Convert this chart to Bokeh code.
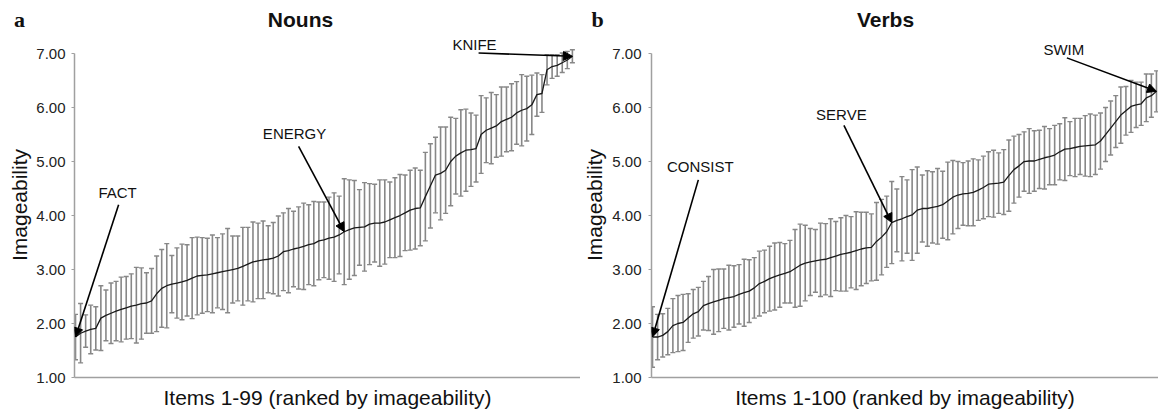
from bokeh.plotting import figure
from bokeh.models import (ColumnDataSource, Whisker, TeeHead, Arrow, NormalHead, Label,
                          FixedTicker, Range1d, PrintfTickFormatter)
from bokeh.layouts import row, column
from bokeh.embed import file_html
from bokeh.resources import INLINE

# ---------------- data ----------------
noun_means = [1.75, 1.82, 1.86, 1.89, 1.91, 2.10, 2.15, 2.19, 2.23, 2.26,
              2.29, 2.32, 2.34, 2.37, 2.38, 2.42, 2.55, 2.65, 2.70, 2.73,
              2.75, 2.77, 2.80, 2.84, 2.88, 2.89, 2.90, 2.92, 2.94, 2.96,
              2.98, 3.00, 3.02, 3.06, 3.10, 3.14, 3.16, 3.18, 3.19, 3.21,
              3.25, 3.33, 3.35, 3.38, 3.40, 3.43, 3.46, 3.48, 3.53, 3.55,
              3.58, 3.60, 3.64, 3.70, 3.74, 3.77, 3.78, 3.79, 3.84, 3.86,
              3.86, 3.88, 3.92, 3.96, 4.00, 4.05, 4.10, 4.13, 4.14, 4.35,
              4.55, 4.75, 4.78, 4.84, 5.00, 5.10, 5.16, 5.21, 5.22, 5.24,
              5.50, 5.58, 5.62, 5.66, 5.74, 5.78, 5.82, 5.90, 5.95, 5.98,
              6.05, 6.24, 6.26, 6.70, 6.76, 6.78, 6.83, 6.88, 6.95]
noun_sd = [0.42, 0.55, 0.30, 0.45, 0.40, 0.60, 0.47, 0.56, 0.55, 0.60,
           0.58, 0.60, 0.70, 0.66, 0.56, 0.60, 0.70, 0.72, 0.78, 0.53,
           0.65, 0.70, 0.66, 0.75, 0.72, 0.70, 0.68, 0.72, 0.65, 0.70,
           0.78, 0.62, 0.60, 0.72, 0.68, 0.74, 0.70, 0.72, 0.62, 0.66,
           0.74, 0.72, 0.78, 0.70, 0.76, 0.80, 0.74, 0.78, 0.72, 0.70,
           0.76, 0.82, 0.72, 0.98, 0.92, 0.88, 0.70, 0.82, 0.75, 0.72,
           0.80, 0.78, 0.70, 0.74, 0.76, 0.70, 0.74, 0.75, 0.70, 0.82,
           0.78, 0.70, 0.86, 0.80, 0.82, 0.70, 0.80, 0.76, 0.68, 0.62,
           0.72, 0.60, 0.66, 0.58, 0.64, 0.60, 0.62, 0.58, 0.66, 0.60,
           0.55, 0.40, 0.35, 0.28, 0.22, 0.20, 0.18, 0.16, 0.12]

verb_means = [1.75, 1.75, 1.78, 1.85, 1.96, 2.00, 2.02, 2.10, 2.18, 2.22,
              2.33, 2.37, 2.40, 2.43, 2.46, 2.48, 2.50, 2.54, 2.57, 2.60,
              2.66, 2.74, 2.78, 2.83, 2.87, 2.90, 2.93, 2.96, 3.02, 3.08,
              3.12, 3.14, 3.16, 3.18, 3.19, 3.22, 3.25, 3.28, 3.30, 3.32,
              3.35, 3.38, 3.40, 3.41, 3.52, 3.60, 3.70, 3.87, 3.91, 3.94,
              3.98, 4.01, 4.10, 4.13, 4.13, 4.15, 4.17, 4.20, 4.27, 4.34,
              4.38, 4.40, 4.41, 4.43, 4.47, 4.52, 4.58, 4.59, 4.60, 4.62,
              4.74, 4.85, 4.92, 5.00, 5.01, 5.01, 5.04, 5.07, 5.09, 5.12,
              5.18, 5.23, 5.24, 5.26, 5.28, 5.29, 5.30, 5.31, 5.38, 5.50,
              5.62, 5.74, 5.86, 5.94, 6.02, 6.05, 6.07, 6.18, 6.22, 6.30]
verb_sd = [0.56, 0.42, 0.40, 0.43, 0.50, 0.52, 0.52, 0.45, 0.45, 0.45,
           0.45, 0.50, 0.60, 0.58, 0.55, 0.60, 0.57, 0.55, 0.62, 0.58,
           0.56, 0.60, 0.58, 0.60, 0.62, 0.60, 0.55, 0.58, 0.72, 0.76,
           0.70, 0.62, 0.58, 0.68, 0.66, 0.72, 0.64, 0.68, 0.70, 0.66,
           0.72, 0.68, 0.66, 0.62, 0.72, 0.70, 0.66, 0.76, 0.58, 0.78,
           0.68, 0.84, 0.80, 0.62, 0.70, 0.66, 0.70, 0.62, 0.72, 0.68,
           0.62, 0.58, 0.60, 0.62, 0.56, 0.58, 0.60, 0.62, 0.56, 0.60,
           0.66, 0.62, 0.58, 0.55, 0.60, 0.56, 0.54, 0.58, 0.52, 0.55,
           0.52, 0.58, 0.50, 0.54, 0.52, 0.56, 0.58, 0.55, 0.52, 0.50,
           0.50, 0.48, 0.52, 0.45, 0.48, 0.42, 0.40, 0.44, 0.40, 0.38]

y_ticks = [1, 2, 3, 4, 5, 6, 7]
panel_titles = ["Nouns", "Verbs"]
panel_letters = ["a", "b"]
noun_words = ["FACT", "ENERGY", "KNIFE"]
noun_word_items = [1, 54, 99]
verb_words = ["CONSIST", "SERVE", "SWIM"]
verb_word_items = [1, 48, 100]

# ---------------- styling / layout ----------------
FONT = "Liberation Sans"
BAR_COLOR = "#878787"
AXIS_COLOR = "#a0a0a0"
TOTAL_W = 1158
HEAD_H = 32
MAIN_H = 380


def make_header():
    h = figure(width=TOTAL_W, height=HEAD_H, output_backend="svg", toolbar_location=None,
               x_range=Range1d(0, TOTAL_W), y_range=Range1d(0, HEAD_H),
               x_axis_location=None, y_axis_location=None,
               min_border_left=0, min_border_right=0, min_border_top=0,
               min_border_bottom=0, title=None)
    h.outline_line_color = None
    h.grid.visible = False
    for txt, x in zip(panel_letters, [19, 597]):
        h.add_layout(Label(x=x, y=HEAD_H - 19, text=txt, text_align="center",
                           text_baseline="middle", text_font="Liberation Serif",
                           text_font_size="22px", text_font_style="bold",
                           text_color="#111111"))
    for txt, x in zip(panel_titles, [300, 885]):
        h.add_layout(Label(x=x, y=HEAD_H - 19, text=txt, text_align="center",
                           text_baseline="middle", text_font=FONT,
                           text_font_size="21px", text_font_style="bold",
                           text_color="#111111"))
    return h


def make_panel(xlabel, means, sds, words, word_items, word_layout,
               width, border_left, x_start, x_end, label_standoff, ylab_standoff):
    n = len(means)
    items = list(range(1, n + 1))
    src = ColumnDataSource(dict(
        item=items, mean=means,
        upper=[m + s for m, s in zip(means, sds)],
        lower=[m - s for m, s in zip(means, sds)]))

    p = figure(width=width, height=MAIN_H, output_backend="svg", toolbar_location=None,
               x_range=Range1d(x_start, x_end), y_range=Range1d(1, 7.39),
               min_border_left=border_left, min_border_right=0,
               min_border_top=0, min_border_bottom=35, title=None)
    p.outline_line_color = None
    p.grid.visible = False
    p.background_fill_color = "white"

    # y axis
    ya = p.yaxis[0]
    ya.bounds = (1, 7)
    ya.ticker = FixedTicker(ticks=y_ticks)
    ya.formatter = PrintfTickFormatter(format="%.2f")
    ya.axis_line_color = AXIS_COLOR
    ya.axis_line_width = 1.5
    ya.major_tick_line_color = AXIS_COLOR
    ya.major_tick_out = 3
    ya.major_tick_in = 0
    ya.minor_tick_line_color = None
    ya.major_label_standoff = label_standoff
    ya.major_label_text_font = FONT
    ya.major_label_text_font_size = "15px"
    ya.major_label_text_color = "#222222"
    ya.axis_label = "Imageability"
    ya.axis_label_text_font = FONT
    ya.axis_label_text_font_size = "21px"
    ya.axis_label_text_font_style = "normal"
    ya.axis_label_text_color = "#111111"
    ya.axis_label_standoff = ylab_standoff

    # x axis
    xa = p.xaxis[0]
    xa.ticker = FixedTicker(ticks=[])
    xa.axis_line_color = AXIS_COLOR
    xa.axis_line_width = 1.5
    xa.major_tick_out = 0
    xa.major_tick_in = 0
    xa.minor_tick_line_color = None
    xa.major_label_text_font_size = "0px"
    xa.major_label_standoff = 0
    xa.axis_label = xlabel
    xa.axis_label_text_font = FONT
    xa.axis_label_text_font_size = "21px"
    xa.axis_label_text_font_style = "normal"
    xa.axis_label_text_color = "#111111"
    xa.axis_label_standoff = 8

    # error bars
    w = Whisker(source=src, base="item", upper="upper", lower="lower",
                line_color=BAR_COLOR, line_width=1.6,
                upper_head=TeeHead(size=5, line_color=BAR_COLOR, line_width=1.4),
                lower_head=TeeHead(size=5, line_color=BAR_COLOR, line_width=1.4))
    p.add_layout(w)

    # mean line
    p.line("item", "mean", source=src, line_color="#1a1a1a", line_width=1.3)

    # annotations
    for word, it, (tx, ty, sx, sy) in zip(words, word_items, word_layout):
        p.add_layout(Label(x=tx, y=ty, text=word, text_align="center",
                           text_baseline="middle", text_font=FONT,
                           text_font_size="15px", text_color="#111111"))
        p.add_layout(Arrow(x_start=sx, y_start=sy, x_end=it, y_end=means[it - 1],
                           line_color="black", line_width=1.6,
                           end=NormalHead(size=9, fill_color="black",
                                          line_color="black", line_width=1)))
    return p


noun_layout = [(9.3, 4.42, 9.5, 4.20), (44.2, 5.52, 45.0, 5.28), (79.7, 7.16, 80.5, 7.01)]
verb_layout = [(10.4, 4.90, 10.0, 4.66), (38.1, 5.87, 38.6, 5.67), (81.8, 7.07, 82.4, 6.92)]

p1 = make_panel("Items 1-99 (ranked by imageability)",
                noun_means, noun_sd, noun_words, noun_word_items, noun_layout,
                width=580, border_left=74, x_start=0.8, x_end=100.6,
                label_standoff=6, ylab_standoff=2)
p2 = make_panel("Items 1-100 (ranked by imageability)",
                verb_means, verb_sd, verb_words, verb_word_items, verb_layout,
                width=578, border_left=71, x_start=0.8, x_end=100.4,
                label_standoff=7, ylab_standoff=3)

layout = column(make_header(), row(p1, p2))
open("out.html", "w").write(file_html(layout, INLINE))
